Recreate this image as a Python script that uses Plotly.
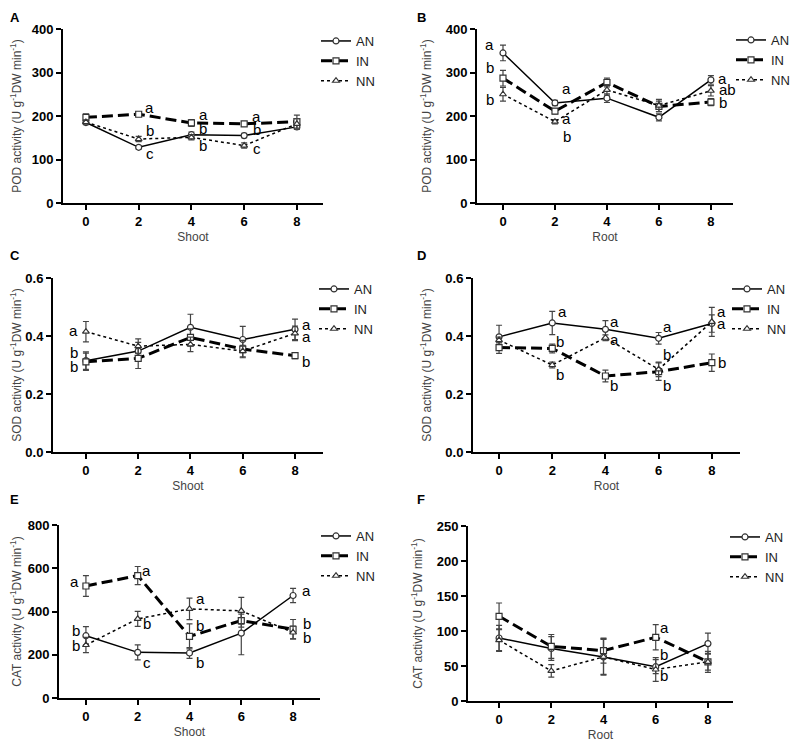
import plotly.graph_objects as go
from plotly.subplots import make_subplots

days = [0, 2, 4, 6, 8]

# POD, shoot (A)
pod_shoot_an = [185, 128, 157, 155, 175]
pod_shoot_in = [197, 204, 184, 182, 187]
pod_shoot_nn = [186, 147, 151, 132, 182]
pod_shoot_an_err = [5, 4, 6, 5, 6]
pod_shoot_in_err = [8, 3, 8, 5, 15]
pod_shoot_nn_err = [5, 6, 6, 6, 12]

# POD, root (B)
pod_root_an = [345, 230, 241, 197, 283]
pod_root_in = [287, 211, 277, 222, 232]
pod_root_nn = [250, 187, 260, 224, 258]
pod_root_an_err = [18, 6, 10, 8, 10]
pod_root_in_err = [18, 6, 10, 12, 8]
pod_root_nn_err = [16, 5, 12, 14, 12]

# SOD, shoot (C)
sod_shoot_an = [0.315, 0.348, 0.430, 0.388, 0.423]
sod_shoot_in = [0.311, 0.323, 0.395, 0.355, 0.332]
sod_shoot_nn = [0.415, 0.365, 0.371, 0.348, 0.409]
sod_shoot_an_err = [0.03, 0.03, 0.045, 0.045, 0.035]
sod_shoot_in_err = [0.03, 0.035, 0.03, 0.03, 0.01]
sod_shoot_nn_err = [0.035, 0.025, 0.025, 0.02, 0.025]

# SOD, root (D)
sod_root_an = [0.397, 0.445, 0.423, 0.392, 0.443]
sod_root_in = [0.360, 0.357, 0.262, 0.277, 0.308]
sod_root_nn = [0.386, 0.300, 0.394, 0.285, 0.449]
sod_root_an_err = [0.04, 0.04, 0.03, 0.02, 0.03]
sod_root_in_err = [0.02, 0.015, 0.02, 0.03, 0.03]
sod_root_nn_err = [0.01, 0.01, 0.01, 0.025, 0.05]

# CAT, shoot (E)
cat_shoot_an = [288, 211, 208, 300, 474]
cat_shoot_in = [518, 566, 285, 358, 318]
cat_shoot_nn = [245, 366, 412, 403, 303]
cat_shoot_an_err = [42, 35, 25, 100, 33]
cat_shoot_in_err = [48, 42, 58, 30, 45]
cat_shoot_nn_err = [35, 35, 50, 62, 30]

# CAT, root (F)
cat_root_an = [90, 75, 63, 49, 82]
cat_root_in = [121, 78, 72, 91, 56]
cat_root_nn = [87, 43, 63, 45, 56]
cat_root_an_err = [18, 17, 25, 10, 15]
cat_root_in_err = [19, 17, 18, 18, 12]
cat_root_nn_err = [16, 9, 26, 17, 15]

# significance letters: x, y, text
letters_a = [(2.42, 220, 'a'), (2.42, 166, 'b'), (2.42, 113, 'c'),
             (4.45, 203, 'a'), (4.45, 172, 'b'), (4.45, 132, 'b'),
             (6.48, 199, 'a'), (6.48, 170, 'b'), (6.48, 125, 'c')]
letters_b = [(-0.5, 364, 'a'), (-0.5, 312, 'b'), (-0.5, 238, 'b'),
             (2.45, 264, 'a'), (2.45, 194, 'a'), (2.45, 152, 'b'),
             (8.45, 286, 'a'), (8.62, 260, 'ab'), (8.45, 230, 'b')]
letters_c = [(-0.46, 0.420, 'a'), (-0.46, 0.344, 'b'), (-0.46, 0.294, 'b'),
             (8.42, 0.441, 'a'), (8.42, 0.397, 'a'), (8.42, 0.311, 'b')]
letters_d = [(2.38, 0.483, 'a'), (2.3, 0.380, 'b'), (2.3, 0.266, 'b'),
             (4.34, 0.449, 'a'), (4.34, 0.389, 'a'), (4.34, 0.231, 'b'),
             (6.32, 0.432, 'a'), (6.32, 0.337, 'b'), (6.32, 0.231, 'b'),
             (8.38, 0.483, 'a'), (8.38, 0.443, 'a'), (8.38, 0.309, 'b')]
letters_e = [(-0.46, 538, 'a'), (-0.4, 311, 'b'), (-0.4, 243, 'b'),
             (2.35, 589, 'a'), (2.35, 343, 'b'), (2.35, 162, 'c'),
             (4.41, 460, 'a'), (4.41, 334, 'b'), (4.41, 166, 'b'),
             (8.51, 497, 'a'), (8.53, 343, 'b'), (8.53, 278, 'b')]
letters_f = [(6.32, 105, 'a'), (6.32, 66, 'b'), (6.32, 36, 'b')]

W, H = 800, 753
OFF = 8  # the page body adds an 8px margin, pull everything back by that
FONT = "Liberation Sans, Arial, sans-serif"
unit = "(U g<sup>-1</sup>DW min<sup>-1</sup>)"


def px_x(p):
    return (p - OFF) / W


def px_y(p):
    return 1 - (p - OFF) / H


# (series, errors, letters, y title, y max, y dtick, x title, px box, x range, panel letter + top-left, legend px)
panels = [
    ((pod_shoot_an, pod_shoot_in, pod_shoot_nn), (pod_shoot_an_err, pod_shoot_in_err, pod_shoot_nn_err),
     letters_a, "POD activity " + unit, 400, 100, "Shoot", (63, 323, 29, 203), (-0.87, 8.99),
     ("A", 8, 8), (316, 26)),
    ((pod_root_an, pod_root_in, pod_root_nn), (pod_root_an_err, pod_root_in_err, pod_root_nn_err),
     letters_b, "POD activity " + unit, 400, 100, "Root", (477, 733, 29, 203), (-1.0, 8.85),
     ("B", 415, 8), (731, 25)),
    ((sod_shoot_an, sod_shoot_in, sod_shoot_nn), (sod_shoot_an_err, sod_shoot_in_err, sod_shoot_nn_err),
     letters_c, "SOD activity " + unit, 0.6, 0.2, "Shoot", (53, 323, 278, 452), (-1.26, 9.07),
     ("C", 8, 246), (314, 274)),
    ((sod_root_an, sod_root_in, sod_root_nn), (sod_root_an_err, sod_root_in_err, sod_root_nn_err),
     letters_d, "SOD activity " + unit, 0.6, 0.2, "Root", (473, 740, 278, 452), (-0.98, 9.06),
     ("D", 415, 246), (727, 274)),
    ((cat_shoot_an, cat_shoot_in, cat_shoot_nn), (cat_shoot_an_err, cat_shoot_in_err, cat_shoot_nn_err),
     letters_e, "CAT activity " + unit, 800, 200, "Shoot", (59, 320, 525, 698), (-1.04, 9.04),
     ("E", 8, 490), (316, 521)),
    ((cat_root_an, cat_root_in, cat_root_nn), (cat_root_an_err, cat_root_in_err, cat_root_nn_err),
     letters_f, "CAT activity " + unit, 250, 50, "Root", (468, 733, 526, 701), (-1.19, 8.96),
     ("F", 415, 490), (725, 522)),
]

styles = [
    ("AN", dict(color="black", width=1.5, dash="solid"), "circle"),
    ("IN", dict(color="black", width=3, dash="11px,5px"), "square"),
    ("NN", dict(color="black", width=1.5, dash="3px,3px"), "triangle-up"),
]

fig = make_subplots(rows=3, cols=2)

for i, (series, errs, letters, ytitle, ymax, dtick, xtitle, box, xr, tag, legpos) in enumerate(panels):
    row, col = i // 2 + 1, i % 2 + 1
    leg = "legend" if i == 0 else f"legend{i + 1}"
    for (name, line, sym), ys, er in zip(styles, series, errs):
        fig.add_trace(go.Scatter(
            x=days, y=ys, name=name, mode="lines+markers", line=line,
            marker=dict(symbol=sym, size=6, color="white", line=dict(color="#333", width=1.2)),
            error_y=dict(type="data", array=er, color="#444", thickness=1.2, width=3),
            legend=leg, showlegend=True,
        ), row=row, col=col)
    x0, x1, y0, y1 = box
    n = "" if i == 0 else str(i + 1)
    fig.layout["xaxis" + n].update(
        domain=[px_x(x0), px_x(x1)], range=list(xr), tickvals=days, automargin=False,
        showline=True, linewidth=2, linecolor="black", ticks="outside", ticklen=5, tickwidth=2,
        tickcolor="black", showgrid=False, zeroline=False,
        tickfont=dict(family=FONT, size=13, color="black", weight="bold"),
        title=dict(text=xtitle, font=dict(family=FONT, size=12, color="#444"), standoff=5),
    )
    fig.layout["yaxis" + n].update(
        domain=[px_y(y1), px_y(y0)], range=[0, ymax], dtick=dtick, automargin=False,
        tickformat=".1f" if ymax < 1 else "d",
        showline=True, linewidth=2, linecolor="black", ticks="outside", ticklen=5, tickwidth=2,
        tickcolor="black", showgrid=False, zeroline=False,
        tickfont=dict(family=FONT, size=13, color="black", weight="bold"),
        title=dict(text=ytitle, font=dict(family=FONT, size=12, color="#444"), standoff=11),
    )
    for lx, ly, lt in letters:
        fig.add_annotation(x=lx, y=ly, text=lt, xref="x" + n, yref="y" + n, showarrow=False,
                           font=dict(family=FONT, size=15, color="black"))
    fig.add_annotation(x=px_x(tag[1]), y=px_y(tag[2]), xanchor="left", yanchor="top",
                       xref="paper", yref="paper", text=tag[0], showarrow=False,
                       font=dict(family=FONT, size=13, color="black", weight="bold"))
    fig.layout[leg] = dict(
        x=px_x(legpos[0]), y=px_y(legpos[1]),
        xanchor="left", yanchor="top", bgcolor="rgba(0,0,0,0)",
        font=dict(family=FONT, size=13, color="#222"), itemwidth=30, tracegroupgap=0,
    )

fig.update_layout(
    width=W, height=H, margin=dict(l=0, r=0, t=0, b=0, autoexpand=False),
    paper_bgcolor="white", plot_bgcolor="white",
    font=dict(family=FONT),
)

fig.write_html("out.html")
